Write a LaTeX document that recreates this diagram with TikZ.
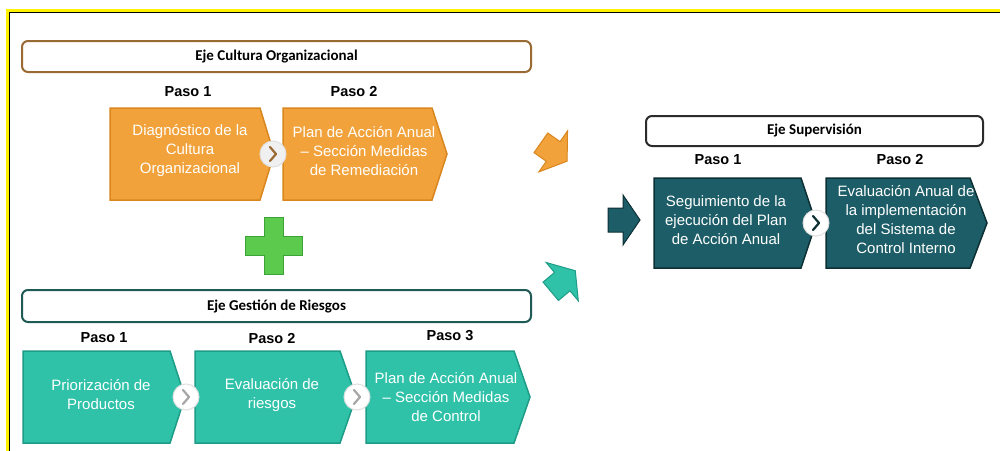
\documentclass[tikz,border=0pt]{standalone}
\usepackage{fontspec}
\setmainfont{Liberation Sans}
\newfontfamily\ejefont{Carlito}
\usetikzlibrary{calc}

\definecolor{pasoOrange}{HTML}{F2A23A}
\definecolor{pasoOrangeEdge}{HTML}{D9861F}
\definecolor{pasoTeal}{HTML}{2FC2A9}
\definecolor{pasoTealEdge}{HTML}{1E9C87}
\definecolor{pasoDark}{HTML}{1D5D67}
\definecolor{pasoDarkEdge}{HTML}{0D3035}
\definecolor{plusGreen}{HTML}{5CCB4D}
\definecolor{plusGreenEdge}{HTML}{3DA238}
\definecolor{ejeBrown}{HTML}{9A6A35}
\definecolor{ejeTeal}{HTML}{1F5A55}
\definecolor{ejeGrey}{HTML}{2B2B2B}

\tikzset{
  ejebox/.style={rounded corners=6, line width=2, fill=white},
  ejetext/.style={font=\ejefont\bfseries\fontsize{15}{18}\selectfont},
  pasotext/.style={font=\bfseries\fontsize{14.5}{17}\selectfont},
  steptext/.style={text=white, align=center, font=\fontsize{15}{19}\selectfont},
  joint/.style={circle, fill=white, draw=black!12, line width=1, minimum size=26, inner sep=0},
  jointmark/.style={line width=2.2, line cap=round, line join=round},
}

\begin{document}
\begin{tikzpicture}[x=1pt,y=-1pt]
    \useasboundingbox (0,0) rectangle (1000,450);
    \fill[white] (0,0) rectangle (1000,450);

    % Frame
    \draw[yellow, line width=3] (7,455) -- (7,10.5) -- (1005,10.5);
    \draw[black, line width=1] (9.5,455) -- (9.5,12.5) -- (1005,12.5);

    % Eje Cultura Organizacional
    \draw[ejebox, draw=ejeBrown] (22,41) rectangle (531,72);
    \node[ejetext] (ejeCultura) at (276.5,56.5) {Eje Cultura Organizacional};
    \node[pasotext] (cPaso1) at (188,92) {Paso 1};
    \node[pasotext] (cPaso2) at (354,92) {Paso 2};
    \filldraw[fill=pasoOrange, draw=pasoOrangeEdge, line width=1.5] (110,108) -- (260,108) -- (274,154) -- (260,200) -- (110,200) -- cycle;
    \filldraw[fill=pasoOrange, draw=pasoOrangeEdge, line width=1.5] (283,108) -- (432,108) -- (447,154) -- (432,200) -- (283,200) -- cycle;
    \node[steptext] (cStep1) at (190,151) {Diagnóstico de la\\Cultura\\Organizacional};
    \node[steptext] (cStep2) at (364,151) {Plan de Acción Anual\\– Sección Medidas\\de Remediación};
    \node[joint, fill=black!6] (cJoint) at (273,154) {};
    \draw[jointmark, draw=ejeBrown] ($(cJoint)+(-3,-7)$) -- ($(cJoint)+(3,0)$) -- ($(cJoint)+(-3,7)$);

    % Plus
    \filldraw[fill=plusGreen, draw=plusGreenEdge, line width=1] (264,217) -- (283,217) -- (283,236) -- (302,236) -- (302,255) -- (283,255) -- (283,274) -- (264,274) -- (264,255) -- (245,255) -- (245,236) -- (264,236) -- cycle;

    % Eje Gestion de Riesgos
    \draw[ejebox, draw=ejeTeal] (22,290) rectangle (531,322);
    \node[ejetext] (ejeGestion) at (276.5,306) {Eje Gestión de Riesgos};
    \node[pasotext] (gPaso1) at (104,338) {Paso 1};
    \node[pasotext] (gPaso2) at (272,339) {Paso 2};
    \node[pasotext] (gPaso3) at (450,336) {Paso 3};
    \filldraw[fill=pasoTeal, draw=pasoTealEdge, line width=1.5] (23,351) -- (170,351) -- (185,397) -- (170,443) -- (23,443) -- cycle;
    \filldraw[fill=pasoTeal, draw=pasoTealEdge, line width=1.5] (195,351) -- (340,351) -- (356,397) -- (340,443) -- (195,443) -- cycle;
    \filldraw[fill=pasoTeal, draw=pasoTealEdge, line width=1.5] (366,351) -- (514,351) -- (530,397) -- (514,443) -- (366,443) -- cycle;
    \node[steptext] (gStep1) at (101,395) {Priorización de\\Productos};
    \node[steptext] (gStep2) at (272,395) {Evaluación de\\riesgos};
    \node[steptext] (gStep3) at (446,397) {Plan de Acción Anual\\– Sección Medidas\\de Control};
    \node[joint] (gJoint1) at (186,397) {};
    \node[joint] (gJoint2) at (357,397) {};
    \draw[jointmark, draw=black!35] ($(gJoint1)+(-3,-7)$) -- ($(gJoint1)+(3,0)$) -- ($(gJoint1)+(-3,7)$);
    \draw[jointmark, draw=black!35] ($(gJoint2)+(-3,-7)$) -- ($(gJoint2)+(3,0)$) -- ($(gJoint2)+(-3,7)$);

    % Block arrows
    \begin{scope}[shift={(554,152)}, rotate=-35]
        \filldraw[fill=pasoOrange, draw=pasoOrangeEdge, line width=1] (-16,-12) -- (-1,-12) -- (-1,-25) -- (16,0) -- (-1,25) -- (-1,12) -- (-16,12) -- cycle;
    \end{scope}
    \begin{scope}[shift={(563,281)}, rotate=40]
        \filldraw[fill=pasoTeal, draw=pasoTealEdge, line width=1] (-16,-12) -- (-1,-12) -- (-1,-25) -- (16,0) -- (-1,25) -- (-1,12) -- (-16,12) -- cycle;
    \end{scope}
    \begin{scope}[shift={(624,220)}]
        \filldraw[fill=pasoDark, draw=pasoDarkEdge, line width=1] (-16,-12) -- (-1,-12) -- (-1,-25) -- (16,0) -- (-1,25) -- (-1,12) -- (-16,12) -- cycle;
    \end{scope}

    % Eje Supervision
    \draw[ejebox, draw=ejeGrey] (646,116) rectangle (983,146);
    \node[ejetext] (ejeSupervision) at (814.5,131) {Eje Supervisión};
    \node[pasotext] (sPaso1) at (718,160) {Paso 1};
    \node[pasotext] (sPaso2) at (900,160) {Paso 2};
    \filldraw[fill=pasoDark, draw=pasoDarkEdge, line width=1.5] (654,178) -- (801,178) -- (816,223) -- (801,268) -- (654,268) -- cycle;
    \filldraw[fill=pasoDark, draw=pasoDarkEdge, line width=1.5] (826,178) -- (970,178) -- (987,223) -- (970,268) -- (826,268) -- cycle;
    \node[steptext] (sStep1) at (726,220) {Seguimiento de la\\ejecución del Plan\\de Acción Anual};
    \node[steptext] (sStep2) at (906,220) {Evaluación Anual de\\la implementación\\del Sistema de\\Control Interno};
    \node[joint] (sJoint) at (816,223) {};
    \draw[jointmark, draw=pasoDarkEdge] ($(sJoint)+(-3,-7)$) -- ($(sJoint)+(3,0)$) -- ($(sJoint)+(-3,7)$);
\end{tikzpicture}
\end{document}
